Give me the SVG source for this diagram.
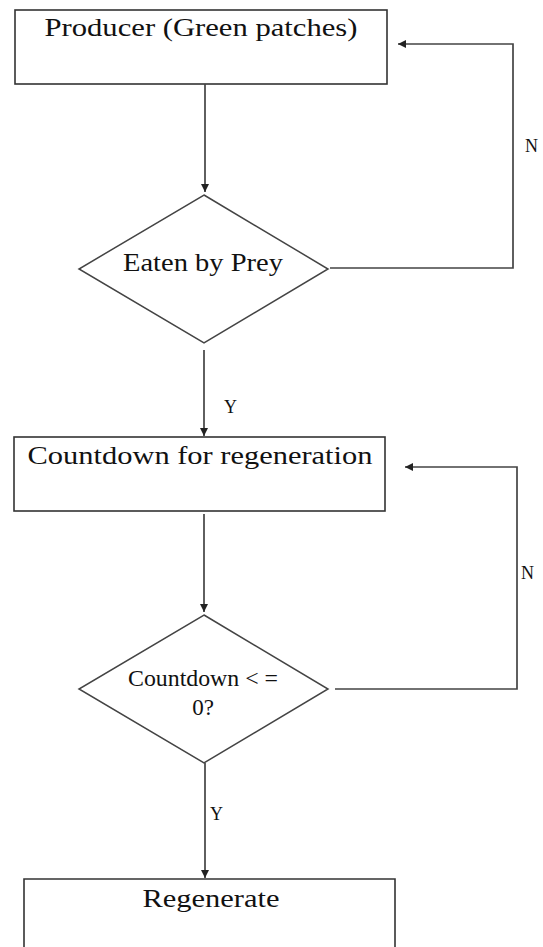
<svg xmlns="http://www.w3.org/2000/svg" width="543" height="947" viewBox="0 0 543 947">
<style>
.box{fill:#fff;stroke:#333;stroke-width:1.6}
.dia{fill:#fff;stroke:#444;stroke-width:1.5}
.con{fill:none;stroke:#444;stroke-width:1.7}
text{font-family:'Liberation Serif','Times New Roman',serif;fill:#111}
</style>
<defs>
<marker id="ah" markerWidth="10" markerHeight="10" refX="8" refY="4" orient="auto" markerUnits="userSpaceOnUse">
<path d="M0,0 L8,4 L0,8 z" fill="#222"/>
</marker>
</defs>
<rect width="543" height="947" fill="#fff"/>
<g id="producer">
<rect class="box" x="15" y="10" width="372" height="74"/>
<text x="201" y="36" font-size="25" text-anchor="middle" textLength="313" lengthAdjust="spacingAndGlyphs">Producer (Green patches)</text>
</g>
<g id="eaten">
<polygon class="dia" points="204,195 328,269 204,343 79,269"/>
<text x="203" y="271" font-size="25" text-anchor="middle" textLength="160" lengthAdjust="spacingAndGlyphs">Eaten by Prey</text>
</g>
<g id="countdown">
<rect class="box" x="14" y="437" width="371" height="74"/>
<text x="200" y="464" font-size="26" text-anchor="middle" textLength="345" lengthAdjust="spacingAndGlyphs">Countdown for regeneration</text>
</g>
<g id="check">
<polygon class="dia" points="204,615 328,689 204,763 79,689"/>
<text x="203" y="686" font-size="23" text-anchor="middle" textLength="150" lengthAdjust="spacingAndGlyphs">Countdown &lt; =</text>
<text x="203" y="715" font-size="23" text-anchor="middle">0?</text>
</g>
<g id="regenerate">
<path class="box" d="M24,947 V879 H395 V947"/>
<text x="211" y="907" font-size="25" text-anchor="middle" textLength="137" lengthAdjust="spacingAndGlyphs">Regenerate</text>
</g>
<g id="connectors">
<line class="con" x1="205" y1="84" x2="205" y2="192" marker-end="url(#ah)"/>
<polyline class="con" points="330,268 513,268 513,44 398,44" marker-end="url(#ah)"/>
<line class="con" x1="204" y1="350" x2="204" y2="436" marker-end="url(#ah)"/>
<line class="con" x1="204" y1="514" x2="204" y2="612" marker-end="url(#ah)"/>
<polyline class="con" points="335,689 517,689 517,467 405,467" marker-end="url(#ah)"/>
<line class="con" x1="205" y1="763" x2="205" y2="878" marker-end="url(#ah)"/>
<text x="525" y="152" font-size="18">N</text>
<text x="521" y="579" font-size="18">N</text>
<text x="224" y="413" font-size="18">Y</text>
<text x="210" y="820" font-size="18">Y</text>
</g>
</svg>
